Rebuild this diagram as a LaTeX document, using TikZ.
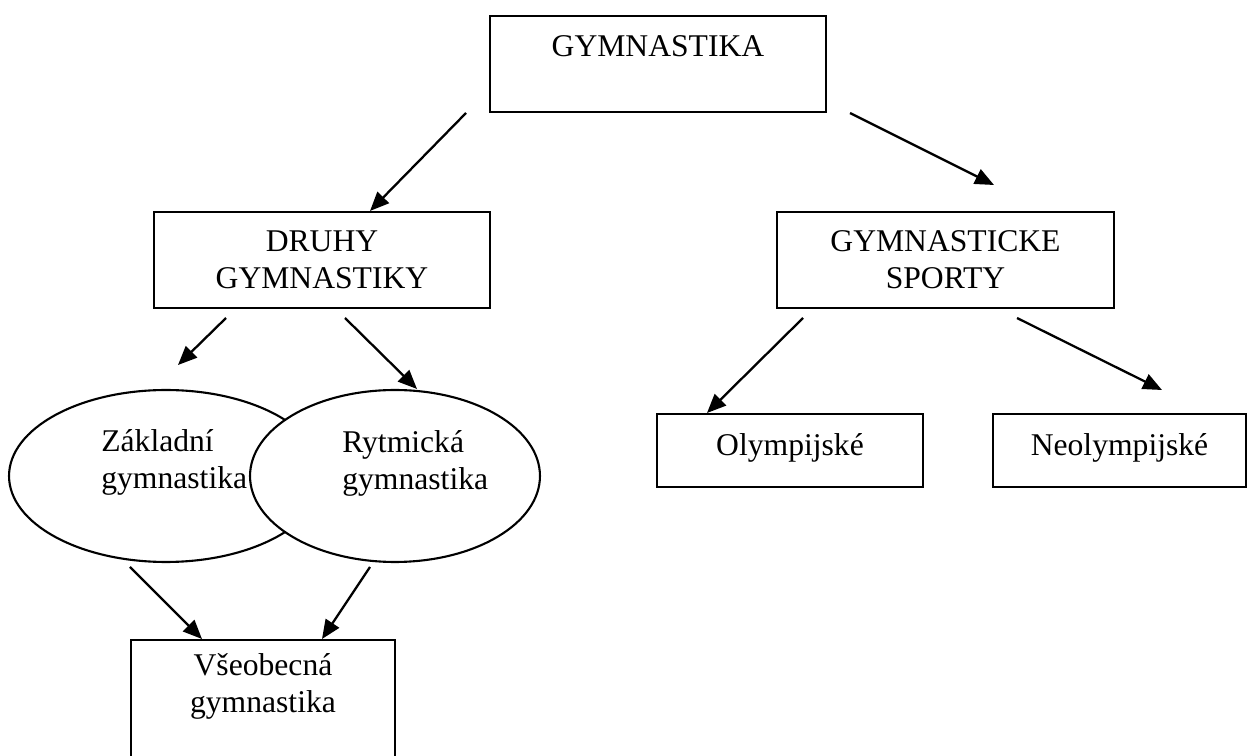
\documentclass[tikz,border=0pt]{standalone}
\usepackage{fontspec}
\setmainfont{Liberation Serif}
\usetikzlibrary{arrows.meta,shapes.geometric}

\begin{document}
\begin{tikzpicture}[x=0.02cm, y=-0.02cm,
		box/.style={draw, line width=1.2pt, rectangle, inner sep=0pt, align=center, font=\fontsize{18}{21}\selectfont},
		oval/.style={draw, line width=1.2pt, ellipse, inner sep=0pt, fill=white},
		txt/.style={align=left, inner sep=0pt, font=\fontsize{18}{21}\selectfont},
		arr/.style={line width=1.3pt, -{Triangle[length=0.38cm, width=0.32cm]}}]
			\useasboundingbox (0,0) rectangle (1248,756);

			\node[box, minimum width=6.72cm, minimum height=1.92cm] (gym) at (658,64) {GYMNASTIKA\\\mbox{}};
			\node[box, minimum width=6.72cm, minimum height=1.92cm] (druhy) at (322,260) {DRUHY\\GYMNASTIKY};
			\node[box, minimum width=6.74cm, minimum height=1.92cm] (sporty) at (945.5,260) {GYMNASTICKE\\SPORTY};
			\node[box, text height=12.4pt, text depth=7pt, minimum width=5.32cm, minimum height=1.46cm] (olymp) at (790,450.5) {Olympijské};
			\node[box, text height=12.4pt, text depth=7pt, minimum width=5.06cm, minimum height=1.46cm] (neolymp) at (1119.5,450.5) {Neolympijské};

			\node[oval, minimum width=6.28cm, minimum height=3.44cm] (zakl) at (166,476) {};
			\node[txt, anchor=west] (zakltxt) at (101,462.5) {Základní\\gymnastika};
			\node[oval, minimum width=5.8cm, minimum height=3.44cm] (rytm) at (395,476) {};
			\node[txt, anchor=west] (rytmtxt) at (342,463) {Rytmická\\gymnastika};

			\node[box, minimum width=5.28cm, minimum height=2.44cm] (vseob) at (263,701) {Všeobecná\\gymnastika\\\mbox{}};

			\coordinate (a1) at (466,113);
			\coordinate (a2) at (850,113);  \coordinate (b2) at (994,185);
			\coordinate (a3) at (226,318);  \coordinate (b3) at (178,365);
			\coordinate (a4) at (345,318);  \coordinate (b4) at (417,389);
			\coordinate (a5) at (803,318);  \coordinate (b5) at (707,413);
			\coordinate (a6) at (1017,318); \coordinate (b6) at (1162,390);
			\coordinate (a7) at (130,567);  \coordinate (b7) at (202,639);
			\coordinate (a8) at (370,567);  \coordinate (b8) at (322,639);

			\path
			(a1) edge[arr] (druhy)
			(a2) edge[arr] (b2)
			(a3) edge[arr] (b3)
			(a4) edge[arr] (b4)
			(a5) edge[arr] (b5)
			(a6) edge[arr] (b6)
			(a7) edge[arr] (b7)
			(a8) edge[arr] (b8);
		\end{tikzpicture}
\end{document}
